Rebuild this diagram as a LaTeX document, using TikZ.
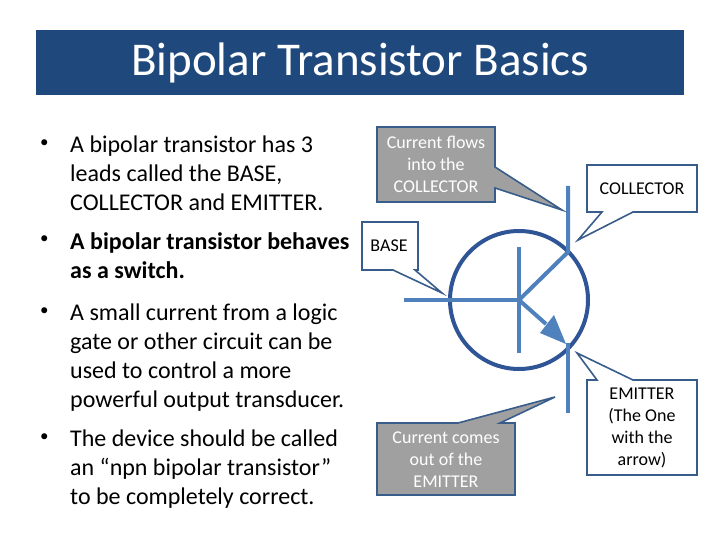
\documentclass[tikz,border=0pt]{standalone}
\usepackage{fontspec}
\setmainfont{Carlito}
\definecolor{titlebg}{HTML}{1F497D}
\definecolor{tline}{HTML}{4F81BD}
\definecolor{cbord}{HTML}{385D8A}
\definecolor{circ}{HTML}{2F5597}
\definecolor{gbox}{HTML}{A0A0A0}
\begin{document}
\begin{tikzpicture}[x=1pt,y=-1pt,
  bul/.style={anchor=north west,align=left,font=\fontsize{24}{29}\selectfont,inner sep=0},
  dot/.style={anchor=north west,inner sep=0,font=\fontsize{17}{29}\selectfont},
  callw/.style={draw=cbord,line width=1.6pt,fill=white},
  callg/.style={draw=cbord,line width=1.6pt,fill=gbox},
  ctext/.style={align=center,font=\fontsize{18}{22}\selectfont,inner sep=0},
  lead/.style={draw=tline,line width=4pt}]
\useasboundingbox (0,0) rectangle (720,540);
\fill[white] (0,0) rectangle (720,540);
\node[fill=titlebg,minimum width=648,minimum height=65,anchor=north west,inner sep=0,text=white,font=\fontsize{47}{50}\selectfont] (title) at (36,30) {Bipolar Transistor Basics};
% bullets
\node[dot] (d1) at (40,140) {•};
\node[bul] (b1) at (70,136) {A bipolar transistor has 3\\leads called the BASE,\\COLLECTOR and EMITTER.};
\node[dot] (d2) at (40,236) {•};
\node[bul,font=\fontsize{24}{29}\selectfont\bfseries] (b2) at (70,232) {A bipolar transistor behaves\\as a switch.};
\node[dot] (d3) at (40,308) {•};
\node[bul] (b3) at (70,304) {A small current from a logic\\gate or other circuit can be\\used to control a more\\powerful output transducer.};
\node[dot] (d4) at (40,434) {•};
\node[bul] (b4) at (70,430) {The device should be called\\an “npn bipolar transistor”\\to be completely correct.};
% transistor
\draw[circ,line width=4pt] (519,300) circle (69);
\coordinate (cTop) at (568,186);
\coordinate (cJ) at (568,252);
\coordinate (eJ) at (568,343);
\coordinate (eBot) at (568,413);
\coordinate (bL) at (404,300);
\coordinate (bC) at (519,300);
\draw[lead] (cTop) -- (cJ) -- (bC);
\draw[lead] (519,247) -- (519,353);
\draw[lead] (bL) -- (bC);
\draw[lead] (bC) -- (546,324);
\fill[tline] (566,344) -- (540,333) -- (554,315) -- cycle;
\draw[lead] (eJ) -- (eBot);
% callouts
\draw[callg] (377,127) -- (495,127) -- (495,167) -- (562,210) -- (495,188) -- (495,202) -- (377,202) -- cycle;
\node[ctext,text=white] (g1) at (436,164) {Current flows\\into the\\COLLECTOR};
\draw[callw] (587,165) -- (697,165) -- (697,212) -- (633,212) -- (578,240) -- (602,212) -- (587,212) -- cycle;
\node[ctext] (col) at (642,189) {COLLECTOR};
\draw[callw] (362,222) -- (418,222) -- (418,270) -- (415,270) -- (442,293) -- (393,270) -- (362,270) -- cycle;
\node[ctext] (base) at (389,246) {BASE};
\draw[callw] (587,380) -- (597,380) -- (577,353) -- (633,380) -- (697,380) -- (697,475) -- (587,475) -- cycle;
\node[ctext] (emi) at (642,428) {EMITTER\\(The One\\with the\\arrow)};
\draw[callg] (377,423) -- (458,423) -- (555,397) -- (500,423) -- (515,423) -- (515,495) -- (377,495) -- cycle;
\node[ctext,text=white] (g2) at (446,460) {Current comes\\out of the\\EMITTER};
\end{tikzpicture}
\end{document}
